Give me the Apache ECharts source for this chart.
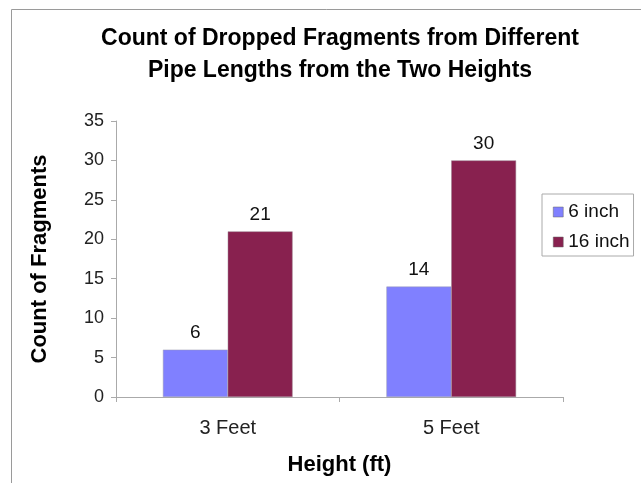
<!DOCTYPE html>
<html>
<head>
<meta charset="utf-8">
<script src="https://cdn.jsdelivr.net/npm/echarts@6/dist/echarts.min.js"></script>
<style>html,body{margin:0;padding:0;background:#fff;}#c{width:641px;height:483px;}</style>
</head>
<body>
<div id="c"></div>
<script>
const categories = ['3 Feet', '5 Feet'];
const sixInch = [6, 14];
const sixteenInch = [21, 30];
const seriesNames = ['6 inch', '16 inch'];

const chart = echarts.init(document.getElementById('c'), null, {renderer: 'canvas'});
const font = 'Liberation Sans, Arial, sans-serif';
chart.setOption({
  animation: false,
  backgroundColor: '#fff',
  graphic: [{
    type: 'rect', left: 9, top: 7, shape: {width: 700, height: 520},
    style: {fill: 'none', stroke: '#9a9a9a', lineWidth: 1}, silent: true, z: -1
  }],
  title: {
    text: 'Count of Dropped Fragments from Different\nPipe Lengths from the Two Heights',
    left: 335, top: 18, textAlign: 'center',
    textStyle: {fontFamily: font, fontSize: 23, fontWeight: 'bold', color: '#000', lineHeight: 32}
  },
  legend: {
    orient: 'vertical', left: 542, top: 194,
    data: seriesNames,
    borderColor: '#aaaaaa', borderWidth: 1,
    padding: [8, 4, 4, 11],
    itemWidth: 10, itemHeight: 10, itemGap: 10,
    icon: 'rect',
    itemStyle: {borderColor: '#666', borderWidth: 0.5},
    textStyle: {fontFamily: font, fontSize: 19, color: '#111', lineHeight: 20}
  },
  grid: {left: 116, right: 78, top: 121, bottom: 86, containLabel: false},
  xAxis: {
    type: 'category', data: categories,
    name: 'Height (ft)', nameLocation: 'middle', nameGap: 57,
    nameTextStyle: {fontFamily: font, fontSize: 22, fontWeight: 'bold', color: '#000'},
    axisLine: {lineStyle: {color: '#aaaaaa'}},
    axisTick: {show: true, length: 5, lineStyle: {color: '#aaaaaa'}},
    axisLabel: {fontFamily: font, fontSize: 20, color: '#222', margin: 21}
  },
  yAxis: {
    type: 'value', min: 0, max: 35, interval: 5,
    name: 'Count of Fragments', nameLocation: 'middle', nameGap: 65, nameRotate: 90,
    nameTextStyle: {fontFamily: font, fontSize: 22, fontWeight: 'bold', color: '#000'},
    axisLine: {show: true, lineStyle: {color: '#aaaaaa'}},
    axisTick: {show: true, length: 5, lineStyle: {color: '#aaaaaa'}},
    splitLine: {show: false},
    axisLabel: {fontFamily: font, fontSize: 18, color: '#222', margin: 12}
  },
  series: [
    {
      name: seriesNames[0], type: 'bar', data: sixInch,
      barGap: '0%', barCategoryGap: '42%',
      itemStyle: {color: '#8080ff', borderColor: '#9a9ab0', borderWidth: 0.5},
      label: {show: true, position: 'top', distance: 7, fontFamily: font, fontSize: 19, color: '#111'}
    },
    {
      name: seriesNames[1], type: 'bar', data: sixteenInch,
      barGap: '0%', barCategoryGap: '42%',
      itemStyle: {color: '#88214f', borderColor: '#9a8090', borderWidth: 0.5},
      label: {show: true, position: 'top', distance: 7, fontFamily: font, fontSize: 19, color: '#111'}
    }
  ]
});
</script>
</body>
</html>
